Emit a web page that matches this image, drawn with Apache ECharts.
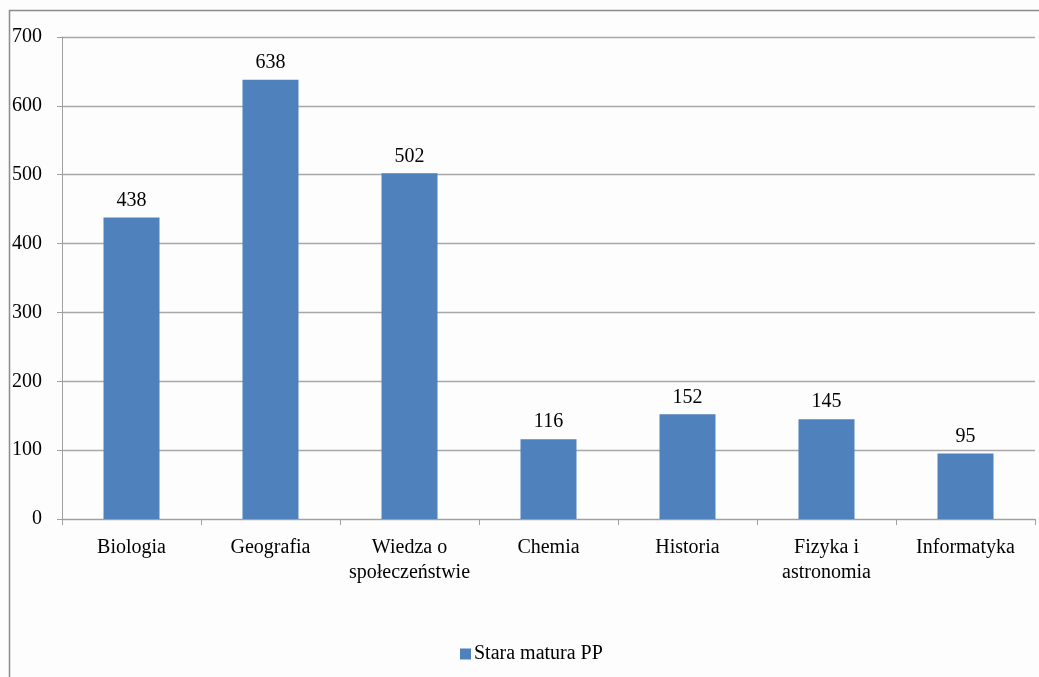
<!DOCTYPE html>
<html><head><meta charset="utf-8">
<script src="https://cdn.jsdelivr.net/npm/echarts@6/dist/echarts.min.js"></script>
<style>html,body{margin:0;padding:0;background:#fdfdfd}#c{width:1039px;height:677px}</style>
</head><body><div id="c"></div>
<script>
const categories = ['Biologia','Geografia','Wiedza o\nspołeczeństwie','Chemia','Historia','Fizyka i\nastronomia','Informatyka'];
const values = [438, 638, 502, 116, 152, 145, 95];
const seriesName = 'Stara matura PP';
const yTicks = {min: 0, max: 700, interval: 100};

const font = '"Liberation Serif", "DejaVu Serif", serif';
const chart = echarts.init(document.getElementById('c'));
chart.setOption({
  backgroundColor: '#fdfdfd',
  animation: false,
  textStyle: {fontFamily: font},
  graphic: [{
    type: 'rect', left: 7, top: 8, z: -1,
    shape: {width: 1100, height: 700},
    style: {fill: 'none', stroke: '#8c8c8c', lineWidth: 1.5}
  }],
  grid: {left: 62, right: 4, top: 37, bottom: 158, containLabel: false},
  legend: {
    top: 639, left: 455,
    itemWidth: 11, itemHeight: 11, itemGap: 5,
    icon: 'rect',
    textStyle: {fontFamily: font, fontSize: 20, color: '#000', padding: [0,0,0,-2]},
    data: [seriesName]
  },
  xAxis: {
    type: 'category', data: categories,
    axisLine: {lineStyle: {color: '#a0a0a0', width: 1}},
    axisTick: {show: true, length: 6, lineStyle: {color: '#a0a0a0'}},
    axisLabel: {fontFamily: font, fontSize: 20, color: '#000', margin: 16, lineHeight: 25, interval: 0}
  },
  yAxis: {
    type: 'value', min: yTicks.min, max: yTicks.max, interval: yTicks.interval,
    axisLine: {show: true, lineStyle: {color: '#a0a0a0'}},
    axisTick: {show: true, length: 5, lineStyle: {color: '#a0a0a0'}},
    splitLine: {lineStyle: {color: '#a8a8a8', width: 1.3}},
    axisLabel: {fontFamily: font, fontSize: 20, color: '#000', margin: 20}
  },
  series: [{
    name: seriesName, type: 'bar', data: values,
    barWidth: 56,
    itemStyle: {color: '#4f81bd'},
    label: {show: true, position: 'top', distance: 7, fontFamily: font, fontSize: 20, color: '#000'}
  }]
});
</script></body></html>
